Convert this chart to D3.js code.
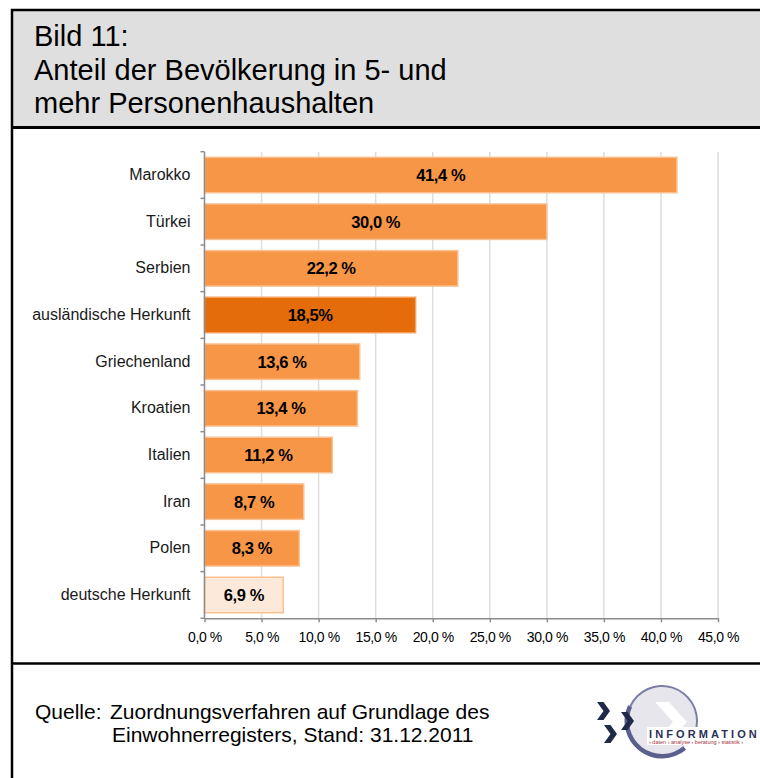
<!DOCTYPE html>
<html>
<head>
<meta charset="utf-8">
<script src="https://cdn.jsdelivr.net/npm/d3@7"></script>
<style>
    body { margin: 0; background: #ffffff; }
    text { font-family: "Liberation Sans", Arial, sans-serif; }
</style>
</head>
<body>
<div id="canvas"></div>
<script>
"use strict"

/* chart data */
const categories = ["Marokko", "Türkei", "Serbien", "ausländische Herkunft", "Griechenland",
    "Kroatien", "Italien", "Iran", "Polen", "deutsche Herkunft"];
const shares = [41.4, 30.0, 22.2, 18.5, 13.6, 13.4, 11.2, 8.7, 8.3, 6.9];
const shareLabels = ["41,4 %", "30,0 %", "22,2 %", "18,5%", "13,6 %", "13,4 %", "11,2 %", "8,7 %", "8,3 %", "6,9 %"];
const groups = ["land", "land", "land", "ausland", "land", "land", "land", "land", "land", "deutsch"];
const tickValues = [0, 5, 10, 15, 20, 25, 30, 35, 40, 45];
const tickLabels = ["0,0 %", "5,0 %", "10,0 %", "15,0 %", "20,0 %", "25,0 %", "30,0 %", "35,0 %", "40,0 %", "45,0 %"];
const titleLines = ["Bild 11:", "Anteil der Bevölkerung in 5- und", "mehr Personenhaushalten"];
const sourceLines = ["Quelle:", "Zuordnungsverfahren auf Grundlage des", "Einwohnerregisters, Stand: 31.12.2011"];

let drawing = d3.select("#canvas")
    .append("svg")
    .attr("width", 760)
    .attr("height", 778);

/* frame, title box and footer line */
let titleBox = drawing.append("rect")
    .attr("x", 12)
    .attr("y", 10)
    .attr("width", 760)
    .attr("height", 117)
    .attr("fill", "#dfdfdf");

let frame = drawing.append("rect")
    .attr("x", 12)
    .attr("y", 10)
    .attr("width", 770)
    .attr("height", 800)
    .attr("fill", "none")
    .attr("stroke", "black")
    .attr("stroke-width", 2.5);

let titleLine = drawing.append("line")
    .attr("x1", 12).attr("x2", 760)
    .attr("y1", 127.5).attr("y2", 127.5)
    .attr("stroke", "black")
    .attr("stroke-width", 3);

let footerLine = drawing.append("line")
    .attr("x1", 12).attr("x2", 760)
    .attr("y1", 663.5).attr("y2", 663.5)
    .attr("stroke", "black")
    .attr("stroke-width", 2.5);

drawing.append("g")
    .selectAll("text")
    .data(titleLines)
    .join("text")
    .attr("x", 34)
    .attr("y", (d, i) => 46 + i * 33.5)
    .attr("font-size", 29)
    .attr("fill", "black")
    .text(d => d);

/* scales */
let x = d3.scaleLinear()
    .domain([0, 45])
    .range([204.5, 718]);

let y = d3.scaleBand()
    .domain(categories)
    .range([151.7, 618.3])
    .paddingInner(0.24)
    .paddingOuter(0.12);

let barColor = d3.scaleOrdinal()
    .domain(["land", "ausland", "deutsch"])
    .range(["#f79646", "#e46c0a", "#fde9d9"]);

let barStroke = d3.scaleOrdinal()
    .domain(["land", "ausland", "deutsch"])
    .range(["#fac090", "#f4a15e", "#fac090"]);

/* gridlines */
drawing.append("g")
    .selectAll("line")
    .data(tickValues.slice(1))
    .join("line")
    .attr("x1", d => x(d)).attr("x2", d => x(d))
    .attr("y1", y.range()[0]).attr("y2", y.range()[1])
    .attr("stroke", "#dedede")
    .attr("stroke-width", 1.5);

/* bars */
let rows = categories.map((c, i) => ({ cat: c, value: shares[i], label: shareLabels[i], group: groups[i] }));

drawing.append("g")
    .selectAll("rect")
    .data(rows)
    .join("rect")
    .attr("x", x(0))
    .attr("y", d => y(d.cat))
    .attr("width", d => x(d.value) - x(0))
    .attr("height", y.bandwidth())
    .attr("fill", d => barColor(d.group))
    .attr("stroke", d => barStroke(d.group))
    .attr("stroke-width", 1.5);

drawing.append("g")
    .selectAll("text")
    .data(rows)
    .join("text")
    .attr("x", d => (x(0) + x(d.value)) / 2)
    .attr("y", d => y(d.cat) + y.bandwidth() / 2)
    .attr("dy", "0.36em")
    .attr("text-anchor", "middle")
    .attr("font-size", 16.5)
    .attr("font-weight", "bold")
    .attr("letter-spacing", -0.4)
    .attr("fill", "black")
    .text(d => d.label);

/* x axis */
let xAxis = drawing.append("g")
    .attr("transform", `translate(0,${y.range()[1]})`)
    .call(d3.axisBottom(x)
        .tickValues(tickValues)
        .tickFormat((d, i) => tickLabels[i])
        .tickSize(4)
        .tickSizeOuter(0)
        .tickPadding(10));

xAxis.select(".domain").attr("stroke", "#8c8c8c").attr("stroke-width", 1.5);
xAxis.selectAll(".tick line").attr("stroke", "#8c8c8c").attr("stroke-width", 1.5);
xAxis.selectAll(".tick text")
    .attr("font-size", 14)
    .attr("letter-spacing", -0.4)
    .attr("fill", "black")
    .attr("font-family", "'Liberation Sans', Arial, sans-serif");

/* y axis: labels at band centres, ticks at band boundaries */
let yAxis = drawing.append("g")
    .attr("transform", `translate(${x(0)},0)`)
    .call(d3.axisLeft(y).tickSize(0).tickPadding(14));

yAxis.select(".domain").remove();
yAxis.selectAll(".tick text")
    .attr("font-size", 16)
    .attr("fill", "#1a1a1a")
    .attr("font-family", "'Liberation Sans', Arial, sans-serif");

let boundaries = categories.map(c => y(c) - y.step() * y.paddingInner() / 2).concat([y.range()[1]]);

drawing.append("line")
    .attr("x1", x(0)).attr("x2", x(0))
    .attr("y1", y.range()[0]).attr("y2", y.range()[1])
    .attr("stroke", "#8c8c8c")
    .attr("stroke-width", 1.5);

drawing.append("g")
    .selectAll("line")
    .data(boundaries)
    .join("line")
    .attr("x1", x(0) - 4).attr("x2", x(0))
    .attr("y1", d => d).attr("y2", d => d)
    .attr("stroke", "#8c8c8c")
    .attr("stroke-width", 1.5);

/* source note */
let source = drawing.append("g")
    .attr("font-size", 21)
    .attr("fill", "black");

source.append("text").attr("x", 35).attr("y", 719).text(sourceLines[0]);
source.append("text").attr("x", 110).attr("y", 719).text(sourceLines[1]);
source.append("text").attr("x", 112).attr("y", 742).text(sourceLines[2]);

/* logo, bottom right */
let logo = drawing.append("g");

logo.append("circle")
    .attr("cx", 662).attr("cy", 721).attr("r", 34)
    .attr("fill", "#e6e6ec");

let thickArc = d3.arc()
    .innerRadius(33).outerRadius(37.5)
    .startAngle(140 * Math.PI / 180).endAngle(295 * Math.PI / 180);

let thinArc = d3.arc()
    .innerRadius(34).outerRadius(36)
    .startAngle(-65 * Math.PI / 180).endAngle(100 * Math.PI / 180);

logo.append("path")
    .attr("transform", "translate(662,721)")
    .attr("d", thickArc())
    .attr("fill", "#5b5f8e");

logo.append("path")
    .attr("transform", "translate(662,721)")
    .attr("d", thinArc())
    .attr("fill", "#7a7ea6");

logo.append("path")
    .attr("d", "M655,702 L669,702 L687,722 L669,742 L655,742 L673,722 Z")
    .attr("fill", "white");

let chevron = "l6.5,0 l6.5,9 l-6.5,9 l-6.5,0 l6.5,-9 z";
[[597, 702], [621, 712], [604, 725]].forEach(p => {
    logo.append("path")
        .attr("d", `M${p[0]},${p[1]} ${chevron}`)
        .attr("fill", "#1f2a48");
});

logo.append("rect")
    .attr("x", 647).attr("y", 727)
    .attr("width", 115).attr("height", 18)
    .attr("fill", "white");

logo.append("text")
    .attr("x", 649).attr("y", 737.5)
    .attr("font-size", 11)
    .attr("font-weight", "bold")
    .attr("letter-spacing", 3.1)
    .attr("fill", "#2b3058")
    .text("INFORMATION");

logo.append("text")
    .attr("x", 649).attr("y", 744)
    .attr("font-size", 5.5)
    .attr("fill", "#a3343e")
    .text("› daten › analyse › beratung › statistik ›");
</script>
</body>
</html>
